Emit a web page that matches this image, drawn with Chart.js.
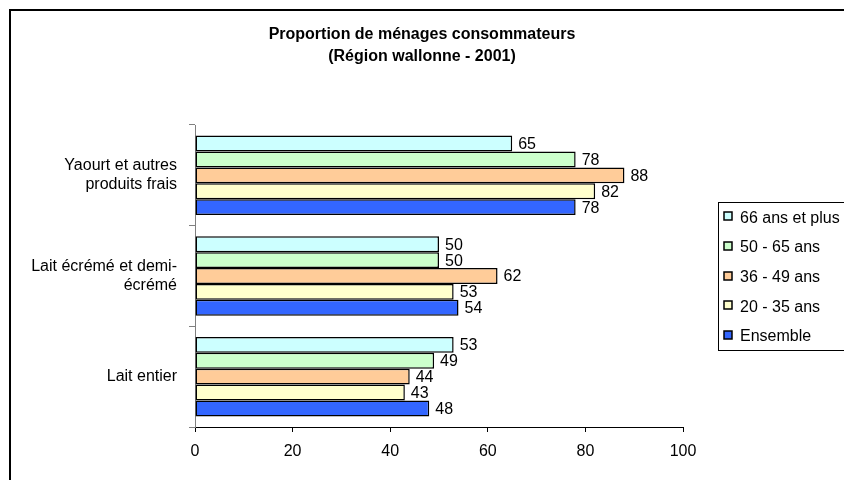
<!DOCTYPE html>
<html>
<head>
<meta charset="utf-8">
<script src="https://cdn.jsdelivr.net/npm/chart.js@4"></script>
<style>
  html, body { margin: 0; padding: 0; background: #fff; }
  #wrap { width: 844px; height: 480px; position: relative; }
</style>
</head>
<body>
<div id="wrap"><canvas id="chart"></canvas></div>
<script>
// catégories (de haut en bas)
const categories = [
  ['Yaourt et autres', 'produits frais'],
  ['Lait écrémé et demi-', 'écrémé'],
  'Lait entier'
];

// séries (ordre de la légende)
const seriesNames = ['66 ans et plus', '50 - 65 ans', '36 - 49 ans', '20 - 35 ans', 'Ensemble'];
const val66plus   = [65, 50, 53];
const val50_65    = [78, 50, 49];
const val36_49    = [88, 62, 44];
const val20_35    = [82, 53, 43];
const valEnsemble = [78, 54, 48];
const seriesValues = [val66plus, val50_65, val36_49, val20_35, valEnsemble];
const seriesColors = ['#CCFFFF', '#CCFFCC', '#FFCC99', '#FFFFCC', '#3366FF'];

const xTicks = [0, 20, 40, 60, 80, 100];

const FONT = "'Liberation Sans', Arial, sans-serif";

// cadre du graphique (coin haut-gauche seulement, le reste est coupé)
const framePlugin = {
  id: 'frame',
  beforeDraw(chart) {
    const ctx = chart.ctx;
    ctx.save();
    ctx.strokeStyle = '#000';
    ctx.lineWidth = 2;
    ctx.beginPath();
    ctx.moveTo(10, chart.height + 2);
    ctx.lineTo(10, 10);
    ctx.lineTo(chart.width + 2, 10);
    ctx.stroke();
    ctx.restore();
  }
};

// étiquettes de valeur au bout des barres
const valueLabels = {
  id: 'valueLabels',
  afterDatasetsDraw(chart) {
    const ctx = chart.ctx;
    ctx.save();
    ctx.font = '16px ' + FONT;
    ctx.fillStyle = '#000';
    ctx.textAlign = 'left';
    ctx.textBaseline = 'middle';
    chart.data.datasets.forEach((ds, i) => {
      const meta = chart.getDatasetMeta(i);
      meta.data.forEach((bar, j) => {
        ctx.fillText(ds.data[j], bar.x + 6, bar.y + 1);
      });
    });
    ctx.restore();
  }
};

// légende encadrée à droite, façon Excel
const boxLegend = {
  id: 'boxLegend',
  afterDraw(chart) {
    const ctx = chart.ctx;
    const left = 718.5, top = 202.5, rowH = 29.6;
    const n = chart.data.datasets.length;
    ctx.save();
    ctx.strokeStyle = '#000';
    ctx.lineWidth = 1;
    ctx.fillStyle = '#fff';
    ctx.fillRect(left, top, chart.width, rowH * n);
    ctx.strokeRect(left, top, chart.width, rowH * n);
    ctx.font = '16px ' + FONT;
    ctx.textBaseline = 'middle';
    chart.data.datasets.forEach((ds, i) => {
      const cy = top + rowH * (i + 0.5);
      ctx.fillStyle = ds.backgroundColor;
      ctx.fillRect(724, Math.round(cy) - 5, 8, 8);
      ctx.strokeStyle = '#000';
      ctx.lineWidth = 1.5;
      ctx.strokeRect(724, Math.round(cy) - 5, 8, 8);
      ctx.fillStyle = '#000';
      ctx.fillText(ds.label, 740, cy + 1);
    });
    ctx.restore();
  }
};

new Chart(document.getElementById('chart'), {
  type: 'bar',
  data: {
    labels: categories,
    datasets: seriesNames.map((name, i) => ({
      label: name,
      data: seriesValues[i],
      backgroundColor: seriesColors[i],
      borderColor: '#000',
      borderWidth: 1.5,
      borderSkipped: false,
      yAxisID: 'y',
      categoryPercentage: 0.79,
      barPercentage: 1.0
    }))
  },
  options: {
    indexAxis: 'y',
    responsive: true,
    maintainAspectRatio: false,
    animation: false,
    layout: { padding: 0 },
    plugins: {
      legend: { display: false },
      tooltip: { enabled: false },
      title: {
        display: true,
        text: ['Proportion de ménages consommateurs', '(Région wallonne - 2001)'],
        color: '#000',
        font: { family: FONT, size: 16, weight: 'bold', lineHeight: 1.375 },
        padding: { top: 24, bottom: 57 }
      }
    },
    scales: {
      x: {
        min: 0,
        max: 100,
        afterBuildTicks: s => { s.ticks = xTicks.map(v => ({ value: v })); },
        afterFit: s => { s.height = 53; },
        grid: { drawOnChartArea: false, drawTicks: true, tickLength: 5, color: '#000' },
        border: { color: '#000', width: 1 },
        ticks: { color: '#000', padding: 10, font: { family: FONT, size: 16 } }
      },
      y: {
        position: 'left',
        afterFit: s => { s.width = 195; },
        grid: { drawOnChartArea: false, drawTicks: true, tickLength: 6, color: '#808080', offset: true },
        border: { color: '#808080', width: 1 },
        ticks: { color: '#000', padding: 12, crossAlign: 'near', font: { family: FONT, size: 16 } }
      },
      // axe vide à droite : réserve la place de la légende
      yRight: {
        type: 'linear',
        position: 'right',
        display: true,
        afterFit: s => { s.width = 161; },
        grid: { display: false },
        border: { display: false },
        ticks: { display: false }
      }
    }
  },
  plugins: [framePlugin, valueLabels, boxLegend]
});
</script>
</body>
</html>
